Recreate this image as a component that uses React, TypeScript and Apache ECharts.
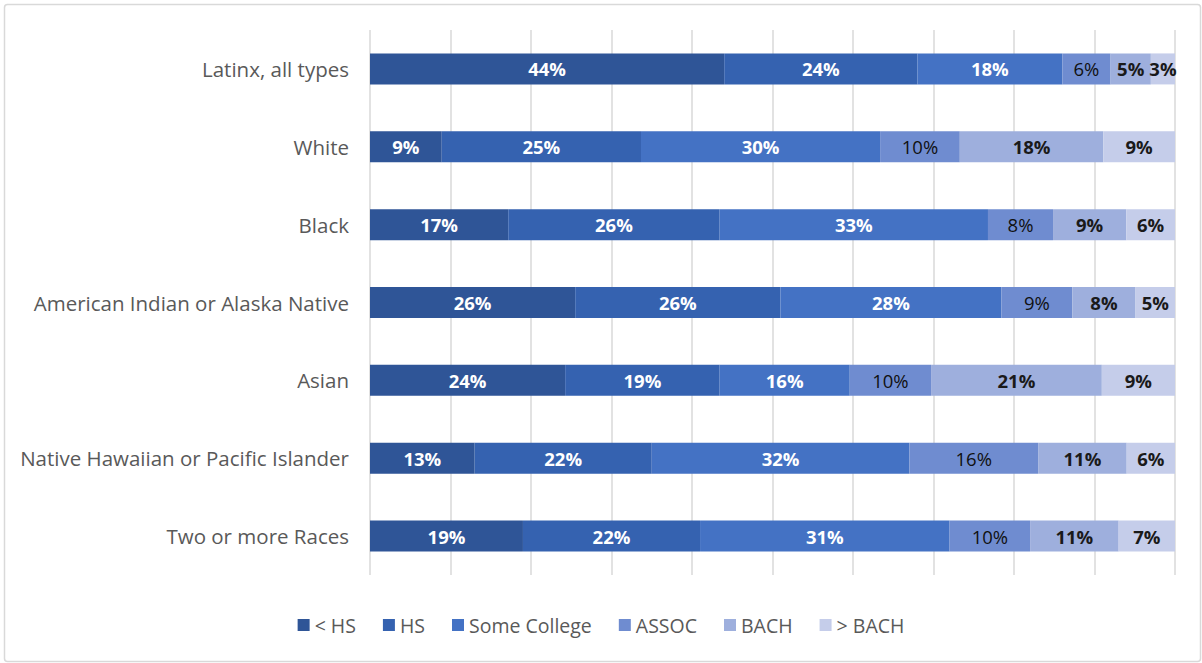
import React, { useEffect, useRef } from "react";
import * as echarts from "echarts";

const categories = [
  "Latinx, all types",
  "White",
  "Black",
  "American Indian or Alaska Native",
  "Asian",
  "Native Hawaiian or Pacific Islander",
  "Two or more Races",
];
const seriesNames = ["< HS", "HS", "Some College", "ASSOC", "BACH", "> BACH"];
const lessHS = [44, 9, 17, 26, 24, 13, 19];
const hs = [24, 25, 26, 26, 19, 22, 22];
const someCollege = [18, 30, 33, 28, 16, 32, 31];
const assoc = [6, 10, 8, 9, 10, 16, 10];
const bach = [5, 18, 9, 8, 21, 11, 11];
const moreBach = [3, 9, 6, 5, 9, 6, 7];

const colors = ["#2F5597", "#3562B0", "#4472C4", "#6F8CD0", "#9EAFDD", "#C5CDEA"];
const labelColors = ["#ffffff", "#ffffff", "#ffffff", "#111111", "#1a1a1a", "#1a1a1a"];
const labelWeights = ["bold", "bold", "bold", "normal", "bold", "bold"];

export default function App() {
  const ref = useRef<HTMLDivElement>(null);
  useEffect(() => {
    if (!ref.current) return;
    const chart = echarts.init(ref.current, undefined, { renderer: "svg" });
    const all = [lessHS, hs, someCollege, assoc, bach, moreBach];
    const sums = categories.map((_, i) => all.reduce((s, arr) => s + arr[i], 0));
    const font = "'Open Sans', 'Noto Sans', sans-serif";
    chart.setOption({
      animation: false,
      backgroundColor: "#ffffff",
      graphic: [
        {
          type: "rect",
          left: 2,
          top: 2,
          shape: { width: 1196, height: 657, r: 3 },
          style: { fill: "none", stroke: "#d9d9d9", lineWidth: 1.5 },
        },
      ],
      legend: {
        top: 610,
        left: "center",
        itemWidth: 12,
        itemHeight: 12,
        itemGap: 27,
        icon: "rect",
        textStyle: { fontFamily: font, fontSize: 19.5, color: "#595959" },
        data: seriesNames,
      },
      grid: { left: 370, right: 27, top: 30, bottom: 88 },
      xAxis: {
        type: "value",
        min: 0,
        max: 100,
        interval: 10,
        axisLabel: { show: false },
        axisLine: { show: false },
        axisTick: { show: false },
        splitLine: { lineStyle: { color: "#d9d9d9", width: 1.5 } },
      },
      yAxis: {
        type: "category",
        inverse: true,
        data: categories,
        axisLine: { show: false },
        axisTick: { show: false },
        axisLabel: { fontFamily: font, fontSize: 20.5, color: "#595959", margin: 21 },
      },
      series: all.map((arr, si) => ({
        name: seriesNames[si],
        type: "bar",
        stack: "total",
        barWidth: 31,
        itemStyle: { color: colors[si] },
        label: {
          show: true,
          position: "inside",
          fontFamily: font,
          fontSize: 18.5,
          color: labelColors[si],
          fontWeight: labelWeights[si],
          formatter: (p: any) => arr[p.dataIndex] + "%",
        },
        data: arr.map((v, i) => (v / sums[i]) * 100),
      })),
    });
    return () => chart.dispose();
  }, []);
  return (
    <div
      ref={ref}
      style={{ position: "absolute", left: 0, top: 0, width: 1202, height: 663 }}
    />
  );
}
